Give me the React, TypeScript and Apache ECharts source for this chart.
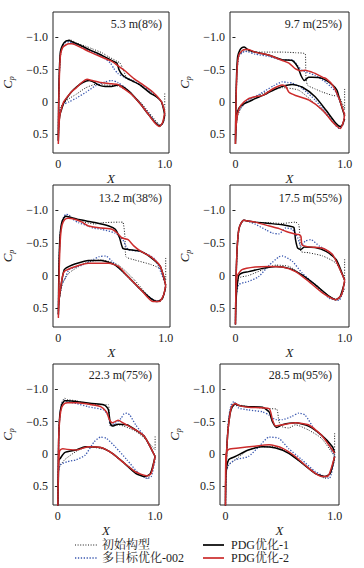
import React, { useEffect, useRef } from 'react';
import * as echarts from 'echarts';

const panelTitles = ['5.3 m(8%)', '9.7 m(25%)', '13.2 m(38%)', '17.5 m(55%)', '22.3 m(75%)', '28.5 m(95%)'];
const seriesNames = ['初始构型', '多目标优化-002', 'PDG优化-1', 'PDG优化-2'];
const xTickValues = [0, 1];
const yTickValues = [-1, -0.5, 0, 0.5];

// Each curve: upper surface from trailing edge to leading edge, then lower surface back to trailing edge. [X, Cp]
const p1Init = [[1.0,-0.13],[1.0,0.13],[0.96,-0.02],[0.86,-0.16],[0.77,-0.25],[0.7,-0.33],[0.64,-0.38],[0.61,-0.5],[0.58,-0.6],[0.55,-0.63],[0.47,-0.7],[0.41,-0.76],[0.32,-0.82],[0.26,-0.86],[0.17,-0.91],[0.11,-0.96],[0.08,-0.95],[0.05,-0.9],[0.03,-0.82],[0.015,-0.6],[0.005,-0.2],[0,0.5],[0.005,0.2],[0.02,0.08],[0.05,0.02],[0.1,-0.05],[0.17,-0.12],[0.26,-0.22],[0.35,-0.27],[0.45,-0.26],[0.55,-0.25],[0.62,-0.2],[0.7,-0.1],[0.77,0.0],[0.86,0.18],[0.92,0.3],[0.96,0.36],[0.99,0.3],[1.0,0.23]];
const p1Moo = [[1.0,0.18],[0.97,0.0],[0.89,-0.14],[0.8,-0.24],[0.71,-0.32],[0.62,-0.38],[0.56,-0.44],[0.52,-0.52],[0.49,-0.6],[0.41,-0.7],[0.3,-0.79],[0.2,-0.86],[0.13,-0.91],[0.1,-0.93],[0.07,-0.92],[0.04,-0.86],[0.02,-0.75],[0.01,-0.45],[0.003,0.05],[0,0.6],[0.005,0.35],[0.02,0.12],[0.05,0.04],[0.1,0.0],[0.17,-0.06],[0.26,-0.15],[0.35,-0.25],[0.44,-0.31],[0.5,-0.33],[0.56,-0.3],[0.62,-0.23],[0.7,-0.1],[0.77,0.02],[0.86,0.2],[0.92,0.33],[0.96,0.37],[0.99,0.3],[1.0,0.18]];
const p1Pdg1 = [[1.0,0.2],[0.97,0.0],[0.92,-0.08],[0.86,-0.14],[0.77,-0.26],[0.7,-0.32],[0.65,-0.36],[0.6,-0.42],[0.57,-0.5],[0.55,-0.6],[0.5,-0.64],[0.41,-0.72],[0.3,-0.8],[0.2,-0.88],[0.13,-0.93],[0.1,-0.95],[0.07,-0.94],[0.04,-0.88],[0.02,-0.78],[0.01,-0.5],[0.003,0.0],[0,0.6],[0.005,0.35],[0.015,0.2],[0.03,0.12],[0.05,0.02],[0.08,-0.06],[0.12,-0.15],[0.17,-0.23],[0.23,-0.3],[0.29,-0.33],[0.34,-0.3],[0.38,-0.26],[0.44,-0.24],[0.5,-0.24],[0.56,-0.26],[0.62,-0.22],[0.68,-0.14],[0.77,0.03],[0.85,0.2],[0.91,0.32],[0.95,0.37],[0.98,0.33],[1.0,0.2]];
const p1Pdg2 = [[1.0,0.16],[0.97,0.0],[0.89,-0.15],[0.8,-0.26],[0.71,-0.36],[0.62,-0.49],[0.56,-0.56],[0.5,-0.63],[0.41,-0.69],[0.3,-0.77],[0.2,-0.85],[0.13,-0.9],[0.1,-0.9],[0.07,-0.88],[0.04,-0.84],[0.02,-0.72],[0.01,-0.4],[0.003,0.1],[0,0.65],[0.005,0.4],[0.015,0.2],[0.03,0.1],[0.05,0.0],[0.08,-0.07],[0.12,-0.15],[0.17,-0.22],[0.22,-0.3],[0.27,-0.35],[0.32,-0.33],[0.4,-0.3],[0.5,-0.28],[0.56,-0.27],[0.62,-0.2],[0.68,-0.13],[0.77,0.03],[0.85,0.2],[0.91,0.33],[0.95,0.38],[0.98,0.32],[1.0,0.16]];

const p2Init = [[1.0,-0.2],[1.0,0.12],[0.95,-0.08],[0.89,-0.1],[0.8,-0.15],[0.73,-0.2],[0.66,-0.26],[0.645,-0.4],[0.64,-0.74],[0.55,-0.76],[0.43,-0.77],[0.31,-0.77],[0.18,-0.77],[0.12,-0.78],[0.08,-0.79],[0.05,-0.76],[0.03,-0.7],[0.015,-0.5],[0.005,0.0],[0,0.65],[0.005,0.4],[0.02,0.22],[0.05,0.1],[0.12,-0.03],[0.25,-0.13],[0.43,-0.22],[0.58,-0.18],[0.73,0.03],[0.83,0.2],[0.92,0.36],[0.96,0.38],[1.0,0.33]];
const p2Moo = [[1.0,0.18],[0.92,-0.15],[0.83,-0.3],[0.73,-0.41],[0.61,-0.49],[0.57,-0.56],[0.52,-0.65],[0.43,-0.65],[0.31,-0.7],[0.18,-0.74],[0.12,-0.77],[0.09,-0.78],[0.06,-0.76],[0.03,-0.7],[0.015,-0.5],[0.005,0.0],[0,0.6],[0.005,0.35],[0.02,0.18],[0.046,0.1],[0.12,-0.03],[0.2,-0.1],[0.28,-0.18],[0.35,-0.25],[0.43,-0.31],[0.48,-0.3],[0.52,-0.29],[0.61,-0.21],[0.73,-0.03],[0.86,0.23],[0.95,0.41],[0.98,0.37],[1.0,0.2]];
const p2Pdg1 = [[1.0,0.22],[0.96,0.0],[0.93,-0.18],[0.89,-0.26],[0.8,-0.36],[0.7,-0.38],[0.67,-0.38],[0.63,-0.33],[0.6,-0.41],[0.57,-0.54],[0.52,-0.64],[0.43,-0.65],[0.31,-0.72],[0.18,-0.77],[0.12,-0.8],[0.08,-0.85],[0.06,-0.84],[0.04,-0.8],[0.02,-0.7],[0.01,-0.4],[0.003,0.1],[0,0.65],[0.005,0.4],[0.015,0.2],[0.03,0.1],[0.076,0.03],[0.12,0.0],[0.18,-0.05],[0.25,-0.1],[0.31,-0.15],[0.37,-0.2],[0.43,-0.24],[0.52,-0.27],[0.61,-0.23],[0.73,-0.08],[0.83,0.13],[0.92,0.33],[0.96,0.38],[0.98,0.35],[1.0,0.26]];
const p2Pdg2 = [[1.0,0.2],[0.95,-0.05],[0.89,-0.26],[0.83,-0.36],[0.8,-0.38],[0.73,-0.44],[0.7,-0.46],[0.64,-0.49],[0.6,-0.48],[0.55,-0.51],[0.49,-0.6],[0.43,-0.64],[0.31,-0.72],[0.18,-0.77],[0.12,-0.81],[0.09,-0.81],[0.06,-0.79],[0.03,-0.72],[0.015,-0.5],[0.005,0.0],[0,0.65],[0.005,0.4],[0.02,0.18],[0.05,0.05],[0.12,-0.05],[0.18,-0.08],[0.25,-0.1],[0.34,-0.2],[0.43,-0.26],[0.46,-0.24],[0.49,-0.15],[0.55,-0.1],[0.67,-0.03],[0.8,0.13],[0.9,0.33],[0.96,0.41],[0.99,0.3],[1.0,0.18]];

const p3Init = [[1.0,-0.27],[1.0,0.07],[0.95,-0.1],[0.86,-0.17],[0.71,-0.24],[0.63,-0.29],[0.62,-0.6],[0.6,-0.82],[0.57,-0.82],[0.4,-0.81],[0.35,-0.79],[0.19,-0.84],[0.1,-0.9],[0.07,-0.92],[0.05,-0.89],[0.03,-0.8],[0.015,-0.6],[0.005,-0.1],[0,0.6],[0.005,0.4],[0.04,0.12],[0.1,-0.04],[0.25,-0.19],[0.4,-0.24],[0.56,-0.16],[0.71,0.07],[0.86,0.35],[0.95,0.4],[1.0,0.2]];
const p3Moo = [[1.0,0.15],[0.9,-0.25],[0.77,-0.37],[0.65,-0.4],[0.6,-0.55],[0.53,-0.65],[0.4,-0.71],[0.32,-0.73],[0.28,-0.76],[0.19,-0.81],[0.12,-0.88],[0.1,-0.93],[0.07,-0.94],[0.05,-0.9],[0.03,-0.8],[0.015,-0.6],[0.005,-0.1],[0,0.6],[0.005,0.4],[0.03,0.15],[0.06,0.05],[0.1,-0.09],[0.22,-0.16],[0.33,-0.25],[0.38,-0.29],[0.44,-0.3],[0.5,-0.22],[0.65,0.02],[0.77,0.22],[0.89,0.38],[0.94,0.39],[0.98,0.3],[1.0,0.15]];
const p3Pdg1 = [[1.0,0.15],[0.95,-0.14],[0.86,-0.28],[0.77,-0.37],[0.65,-0.4],[0.6,-0.42],[0.57,-0.58],[0.53,-0.71],[0.47,-0.76],[0.35,-0.81],[0.19,-0.86],[0.1,-0.9],[0.07,-0.91],[0.05,-0.88],[0.03,-0.8],[0.015,-0.6],[0.005,-0.1],[0,0.6],[0.005,0.4],[0.015,0.27],[0.03,0.1],[0.055,-0.09],[0.1,-0.14],[0.16,-0.18],[0.28,-0.23],[0.4,-0.23],[0.53,-0.16],[0.65,0.02],[0.77,0.22],[0.86,0.35],[0.92,0.4],[0.97,0.35],[1.0,0.17]];
const p3Pdg2 = [[1.0,0.15],[0.95,-0.14],[0.86,-0.29],[0.77,-0.37],[0.7,-0.46],[0.65,-0.55],[0.59,-0.58],[0.55,-0.65],[0.5,-0.71],[0.4,-0.73],[0.28,-0.76],[0.22,-0.82],[0.16,-0.86],[0.09,-0.88],[0.06,-0.86],[0.035,-0.78],[0.02,-0.6],[0.008,-0.1],[0,0.65],[0.005,0.4],[0.02,0.2],[0.04,0.0],[0.06,-0.07],[0.16,-0.14],[0.28,-0.19],[0.47,-0.19],[0.56,-0.14],[0.65,0.02],[0.77,0.22],[0.88,0.4],[0.94,0.4],[0.98,0.3],[1.0,0.15]];

const p4Init = [[1.0,-0.25],[1.0,0.07],[0.92,-0.19],[0.8,-0.3],[0.67,-0.35],[0.6,-0.37],[0.59,-0.6],[0.58,-0.78],[0.55,-0.82],[0.43,-0.8],[0.31,-0.81],[0.18,-0.82],[0.1,-0.84],[0.076,-0.85],[0.05,-0.8],[0.03,-0.7],[0.015,-0.4],[0.005,0.1],[0,0.75],[0.005,0.3],[0.03,0.04],[0.12,0.0],[0.25,-0.09],[0.37,-0.16],[0.49,-0.14],[0.61,-0.01],[0.73,0.14],[0.89,0.35],[0.95,0.36],[1.0,0.2]];
const p4Moo = [[1.0,0.07],[0.89,-0.32],[0.77,-0.45],[0.69,-0.55],[0.64,-0.53],[0.6,-0.45],[0.57,-0.58],[0.52,-0.71],[0.46,-0.73],[0.4,-0.64],[0.34,-0.65],[0.28,-0.7],[0.18,-0.79],[0.1,-0.84],[0.076,-0.85],[0.05,-0.8],[0.03,-0.7],[0.015,-0.4],[0.005,0.1],[0,0.75],[0.005,0.35],[0.03,0.14],[0.12,0.09],[0.21,0.02],[0.31,-0.16],[0.4,-0.29],[0.43,-0.3],[0.52,-0.22],[0.61,-0.04],[0.73,0.14],[0.86,0.35],[0.95,0.38],[1.0,0.09]];
const p4Pdg1 = [[1.0,0.07],[0.95,-0.15],[0.92,-0.25],[0.83,-0.37],[0.73,-0.43],[0.63,-0.44],[0.6,-0.4],[0.57,-0.42],[0.55,-0.55],[0.535,-0.74],[0.49,-0.76],[0.43,-0.78],[0.31,-0.8],[0.18,-0.82],[0.1,-0.84],[0.076,-0.85],[0.05,-0.8],[0.03,-0.7],[0.015,-0.4],[0.005,0.1],[0,0.75],[0.005,0.4],[0.015,0.17],[0.03,0.0],[0.06,-0.04],[0.12,-0.06],[0.25,-0.11],[0.37,-0.14],[0.49,-0.11],[0.61,-0.01],[0.73,0.14],[0.86,0.32],[0.92,0.37],[0.96,0.32],[1.0,0.1]];
const p4Pdg2 = [[1.0,0.07],[0.89,-0.32],[0.8,-0.42],[0.67,-0.44],[0.61,-0.47],[0.6,-0.6],[0.58,-0.63],[0.57,-0.63],[0.52,-0.65],[0.46,-0.68],[0.4,-0.72],[0.31,-0.76],[0.18,-0.82],[0.1,-0.84],[0.076,-0.85],[0.05,-0.8],[0.03,-0.7],[0.015,-0.4],[0.005,0.1],[0,0.75],[0.005,0.3],[0.015,0.01],[0.06,-0.09],[0.18,-0.13],[0.31,-0.14],[0.43,-0.13],[0.55,-0.06],[0.67,0.09],[0.8,0.27],[0.92,0.37],[0.97,0.3],[1.0,0.07]];

const p5Init = [[1.0,-0.27],[1.0,-0.06],[0.92,-0.2],[0.8,-0.35],[0.62,-0.45],[0.57,-0.45],[0.54,-0.43],[0.53,-0.6],[0.52,-0.76],[0.5,-0.76],[0.35,-0.76],[0.19,-0.82],[0.1,-0.84],[0.07,-0.86],[0.04,-0.8],[0.02,-0.6],[0.008,-0.2],[0,0.8],[0.005,0.3],[0.018,0.2],[0.07,0.09],[0.19,-0.04],[0.31,-0.11],[0.5,-0.06],[0.62,0.07],[0.8,0.27],[0.92,0.38],[1.0,0.09]];
const p5Moo = [[1.0,0.04],[0.89,-0.27],[0.8,-0.45],[0.74,-0.6],[0.71,-0.63],[0.68,-0.62],[0.65,-0.55],[0.59,-0.47],[0.54,-0.45],[0.52,-0.6],[0.5,-0.63],[0.47,-0.68],[0.31,-0.73],[0.19,-0.78],[0.1,-0.81],[0.07,-0.83],[0.04,-0.78],[0.02,-0.6],[0.008,-0.2],[0,0.8],[0.005,0.3],[0.024,0.17],[0.1,0.12],[0.19,0.09],[0.28,0.02],[0.375,-0.19],[0.44,-0.26],[0.5,-0.24],[0.59,-0.11],[0.71,0.09],[0.83,0.3],[0.92,0.38],[0.96,0.35],[1.0,0.09]];
const p5Pdg1 = [[1.0,0.04],[0.89,-0.27],[0.8,-0.37],[0.71,-0.45],[0.62,-0.46],[0.56,-0.43],[0.54,-0.47],[0.52,-0.68],[0.5,-0.73],[0.47,-0.76],[0.35,-0.78],[0.19,-0.81],[0.1,-0.82],[0.07,-0.82],[0.04,-0.76],[0.02,-0.6],[0.008,-0.2],[0,0.8],[0.005,0.4],[0.01,0.1],[0.024,0.07],[0.07,-0.02],[0.19,-0.06],[0.28,-0.11],[0.44,-0.1],[0.56,-0.01],[0.68,0.14],[0.8,0.3],[0.89,0.35],[0.95,0.31],[1.0,0.04]];
const p5Pdg2 = [[1.0,0.04],[0.89,-0.27],[0.8,-0.37],[0.68,-0.47],[0.62,-0.52],[0.59,-0.5],[0.56,-0.48],[0.53,-0.53],[0.5,-0.65],[0.44,-0.73],[0.35,-0.76],[0.19,-0.79],[0.1,-0.79],[0.07,-0.78],[0.04,-0.72],[0.02,-0.55],[0.008,-0.2],[0,0.8],[0.005,0.3],[0.015,-0.02],[0.024,-0.06],[0.05,-0.08],[0.1,-0.07],[0.19,-0.06],[0.31,-0.11],[0.44,-0.1],[0.56,-0.01],[0.68,0.14],[0.8,0.28],[0.92,0.34],[0.96,0.3],[1.0,0.04]];

const p6Init = [[1.0,-0.32],[1.0,0.04],[0.88,-0.24],[0.76,-0.37],[0.64,-0.45],[0.58,-0.4],[0.52,-0.42],[0.49,-0.5],[0.47,-0.69],[0.4,-0.7],[0.21,-0.73],[0.12,-0.76],[0.076,-0.79],[0.05,-0.72],[0.03,-0.55],[0.015,-0.2],[0,0.8],[0.005,0.3],[0.03,0.17],[0.09,0.09],[0.21,-0.06],[0.34,-0.11],[0.46,-0.11],[0.58,-0.01],[0.76,0.22],[0.92,0.38],[1.0,0.1]];
const p6Moo = [[1.0,0.04],[0.92,-0.22],[0.82,-0.37],[0.73,-0.6],[0.67,-0.63],[0.61,-0.58],[0.52,-0.53],[0.46,-0.53],[0.4,-0.6],[0.34,-0.65],[0.21,-0.68],[0.12,-0.71],[0.076,-0.81],[0.05,-0.75],[0.03,-0.55],[0.015,-0.2],[0,0.8],[0.005,0.3],[0.03,0.17],[0.09,0.09],[0.21,0.04],[0.305,-0.11],[0.4,-0.26],[0.49,-0.24],[0.58,-0.08],[0.7,0.09],[0.82,0.27],[0.95,0.38],[1.0,0.04]];
const p6Pdg1 = [[1.0,-0.01],[0.98,-0.11],[0.88,-0.29],[0.76,-0.43],[0.64,-0.48],[0.52,-0.45],[0.47,-0.41],[0.43,-0.5],[0.4,-0.65],[0.34,-0.72],[0.21,-0.73],[0.12,-0.75],[0.09,-0.77],[0.06,-0.72],[0.04,-0.6],[0.02,-0.3],[0.005,0.2],[0,0.8],[0.005,0.3],[0.03,0.09],[0.09,0.04],[0.21,-0.06],[0.34,-0.11],[0.46,-0.09],[0.58,-0.01],[0.7,0.14],[0.82,0.3],[0.91,0.35],[0.96,0.3],[1.0,0.04]];
const p6Pdg2 = [[1.0,-0.01],[0.88,-0.29],[0.76,-0.45],[0.64,-0.48],[0.52,-0.45],[0.46,-0.43],[0.43,-0.53],[0.4,-0.7],[0.21,-0.72],[0.12,-0.75],[0.09,-0.78],[0.06,-0.74],[0.04,-0.6],[0.02,-0.3],[0.005,0.2],[0,0.8],[0.005,0.0],[0.03,-0.07],[0.12,-0.09],[0.27,-0.12],[0.4,-0.14],[0.52,-0.09],[0.64,0.04],[0.76,0.22],[0.88,0.35],[0.94,0.34],[1.0,0.04]];

const panelData = [
  [p1Init, p1Moo, p1Pdg1, p1Pdg2],
  [p2Init, p2Moo, p2Pdg1, p2Pdg2],
  [p3Init, p3Moo, p3Pdg1, p3Pdg2],
  [p4Init, p4Moo, p4Pdg1, p4Pdg2],
  [p5Init, p5Moo, p5Pdg1, p5Pdg2],
  [p6Init, p6Moo, p6Pdg1, p6Pdg2],
];

const SERIF = "'Liberation Serif', 'Times New Roman', 'Noto Serif CJK SC', 'Noto Sans CJK SC', serif";

const gridBoxes = [
  { left: 50, top: 12, width: 119, height: 141 },
  { left: 230, top: 12, width: 119, height: 141 },
  { left: 51, top: 185, width: 119, height: 142 },
  { left: 230, top: 185, width: 119, height: 142 },
  { left: 40, top: 364, width: 119, height: 141 },
  { left: 220, top: 364, width: 119, height: 141 },
];
const titlePos = [[162, 24], [342, 24], [162, 198], [342, 198], [152, 375], [332, 375]];
// legend layout: [lineX1, lineX2, textX, y]
const legendPos = [[75, 98, 102, 545], [75, 98, 102, 558], [203, 224, 231, 545], [203, 224, 231, 558]];

const lineStyles = [
  { color: '#1a1a1a', width: 1, type: [1, 1.6] },
  { color: '#3a58b0', width: 1.3, type: [1.3, 1.6] },
  { color: '#000000', width: 1.5, type: 'solid' },
  { color: '#cc2b2b', width: 1.5, type: 'solid' },
];

const fmtY = (v: number) => (v === 0 ? '0' : (v < 0 ? '\u2212' : '') + Math.abs(v).toFixed(1));
const fmtX = (v: number) => (v === 0 ? '0' : v.toFixed(1));

export default function App() {
  const ref = useRef<HTMLDivElement>(null);
  useEffect(() => {
    if (!ref.current) return;
    const chart = echarts.init(ref.current, null, { renderer: 'svg' });
    const grid = gridBoxes.map((g) => ({ ...g, show: true, borderColor: '#222', borderWidth: 1, containLabel: false }));
    const xAxis = gridBoxes.map((_, i) => ({
      type: 'value', gridIndex: i, min: -0.05, max: 1.04,
      name: 'X', nameLocation: 'middle', nameGap: 19,
      nameTextStyle: { fontFamily: SERIF, fontStyle: 'italic', fontSize: 13, color: '#222' },
      splitLine: { show: false },
      axisLine: { show: false },
      axisTick: { show: false },
      axisLabel: { customValues: xTickValues, formatter: fmtX, fontFamily: SERIF, fontSize: 12, color: '#222', margin: 5 },
    }));
    const yAxis = gridBoxes.map((_, i) => ({
      type: 'value', gridIndex: i, min: -1.39, max: 0.79, inverse: true,
      name: '{c|C}{p|p}', nameLocation: 'middle', nameGap: 38, nameRotate: 90,
      nameTextStyle: {
        rich: {
          c: { fontFamily: SERIF, fontStyle: 'italic', fontSize: 13, color: '#222' },
          p: { fontFamily: SERIF, fontStyle: 'italic', fontSize: 8, color: '#222', padding: [7, 0, 0, 0] },
        },
      },
      splitLine: { show: false },
      axisLine: { show: false },
      axisTick: { show: true, inside: false, length: 3, customValues: yTickValues, lineStyle: { color: '#222' } },
      axisLabel: { customValues: yTickValues, formatter: fmtY, fontFamily: SERIF, fontSize: 12, color: '#222', margin: 5 },
    }));
    const series: any[] = [];
    panelData.forEach((curves, pi) => {
      curves.forEach((d, si) => {
        series.push({
          type: 'line', name: seriesNames[si], xAxisIndex: pi, yAxisIndex: pi,
          data: d, symbol: 'none', smooth: 0.2, clip: true,
          lineStyle: lineStyles[si], itemStyle: { color: lineStyles[si].color },
          z: 2 + si,
        });
      });
    });
    const titleEls = panelTitles.map((t, i) => ({
      type: 'text', x: titlePos[i][0], y: titlePos[i][1],
      style: { text: t, fill: '#222', font: `12px ${SERIF}`, textAlign: 'right', textVerticalAlign: 'middle' },
    }));
    const legendEls: any[] = [];
    seriesNames.forEach((n, i) => {
      const [x1, x2, tx, y] = legendPos[i];
      const ls = lineStyles[i];
      legendEls.push({
        type: 'line', shape: { x1, y1: y, x2, y2: y },
        style: { stroke: ls.color, lineWidth: ls.width + 0.2, lineDash: Array.isArray(ls.type) ? ls.type : null },
      });
      legendEls.push({
        type: 'text', x: tx, y,
        style: { text: n, fill: '#222', font: `12px ${SERIF}`, textAlign: 'left', textVerticalAlign: 'middle' },
      });
    });
    chart.setOption({
      animation: false,
      grid, xAxis, yAxis, series,
      graphic: [...titleEls, ...legendEls],
    });
    return () => chart.dispose();
  }, []);
  return <div ref={ref} style={{ position: 'fixed', left: 0, top: 0, width: 364, height: 568, background: '#fff' }} />;
}
